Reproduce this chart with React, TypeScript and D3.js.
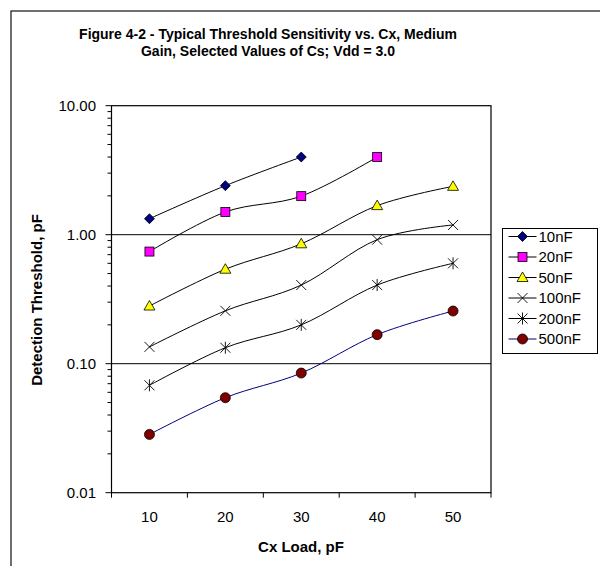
import React from "react";
import * as d3 from "d3";

const categories = [10, 20, 30, 40, 50];
const seriesNames = ["10nF", "20nF", "50nF", "100nF", "200nF", "500nF"];
const s10nF: (number | null)[] = [1.33, 2.4, 4.0, null, null];
const s20nF: (number | null)[] = [0.74, 1.5, 1.99, 4.0, null];
const s50nF: (number | null)[] = [0.28, 0.54, 0.85, 1.68, 2.37];
const s100nF: (number | null)[] = [0.135, 0.257, 0.407, 0.915, 1.19];
const s200nF: (number | null)[] = [0.068, 0.133, 0.2, 0.407, 0.6];
const s500nF: (number | null)[] = [0.0283, 0.0545, 0.0846, 0.168, 0.256];
const seriesValues = [s10nF, s20nF, s50nF, s100nF, s200nF, s500nF];
const yTickValues = [0.01, 0.1, 1, 10];
const yTickLabels = ["0.01", "0.10", "1.00", "10.00"];
const titleLines = [
  "Figure 4-2 - Typical Threshold Sensitivity vs. Cx, Medium",
  "Gain, Selected Values of Cs; Vdd = 3.0",
];

const markerKinds = ["diamond", "square", "triangle", "x", "star", "circle"];
const markerFill = ["#000080", "#FF00FF", "#FFFF00", "none", "none", "#800000"];
const lineColor = ["#000", "#000", "#000", "#000", "#000", "#000080"];

const FONT = "Liberation Sans, Arial, sans-serif";

function Marker({ kind, x, y, fill }: { kind: string; x: number; y: number; fill: string }) {
  const s = 5;
  if (kind === "diamond")
    return <path d={`M${x},${y - s}L${x + s},${y}L${x},${y + s}L${x - s},${y}Z`} fill={fill} stroke="#000" strokeWidth={0.8} />;
  if (kind === "square")
    return <rect x={x - 4.5} y={y - 4.5} width={9} height={9} fill={fill} stroke="#000" strokeWidth={0.8} />;
  if (kind === "triangle")
    return <path d={`M${x},${y - 5.5}L${x + 5.5},${y + 4}L${x - 5.5},${y + 4}Z`} fill={fill} stroke="#000" strokeWidth={0.8} />;
  if (kind === "x")
    return <path d={`M${x - 5},${y - 5}L${x + 5},${y + 5}M${x - 5},${y + 5}L${x + 5},${y - 5}`} stroke="#000" strokeWidth={0.9} />;
  if (kind === "star")
    return <path d={`M${x - 5},${y - 5}L${x + 5},${y + 5}M${x - 5},${y + 5}L${x + 5},${y - 5}M${x},${y - 6}L${x},${y + 6}`} stroke="#000" strokeWidth={0.9} />;
  return <circle cx={x} cy={y} r={5} fill={fill} stroke="#000" strokeWidth={0.8} />;
}

export default function App() {
  const W = 600, H = 566;
  const left = 111.5, right = 491, top = 105.7, bottom = 492.7;

  const x = d3.scaleBand<number>().domain(categories).range([left, right]);
  const y = d3.scaleLog().domain([0.01, 10]).range([bottom, top]);
  const cx = (c: number) => (x(c) as number) + x.bandwidth() / 2;

  const line = d3
    .line<[number, number]>()
    .x((d) => d[0])
    .y((d) => d[1])
    .curve(d3.curveCardinal.tension(0));

  const minorTicks: number[] = [];
  [0.01, 0.1, 1].forEach((dec) => {
    for (let k = 2; k <= 9; k++) minorTicks.push(dec * k);
  });

  const boundaries = [...categories.map((c) => x(c) as number), right];

  const legX = 502.5, legY = 228.5, legW = 95, legRow = 20.5;

  return (
    <svg width={W} height={H} style={{ position: "absolute", left: 0, top: 0, display: "block" }} fontFamily={FONT}>
      <rect x={0} y={0} width={W} height={H} fill="#fff" />
      <rect x={11} y={11} width={700} height={700} fill="none" stroke="#222" strokeWidth={1.3} />
      {titleLines.map((t, i) => (
        <text key={i} x={268} y={39 + i * 17} textAnchor="middle" fontSize={14} fontWeight="bold">
          {t}
        </text>
      ))}
      {/* gridlines */}
      {[0.1, 1].map((v) => (
        <line key={v} x1={left} x2={right} y1={y(v)} y2={y(v)} stroke="#000" strokeWidth={1} />
      ))}
      {/* plot border */}
      <rect x={left} y={top} width={right - left} height={bottom - top} fill="none" stroke="#000" strokeWidth={1.2} />
      {/* y ticks */}
      {yTickValues.map((v, i) => (
        <g key={v}>
          <line x1={left - 6} x2={left} y1={y(v)} y2={y(v)} stroke="#000" />
          <text x={96} y={y(v)} dy="0.36em" textAnchor="end" fontSize={15}>
            {yTickLabels[i]}
          </text>
        </g>
      ))}
      {minorTicks.map((v) => (
        <line key={v} x1={left - 4} x2={left} y1={y(v)} y2={y(v)} stroke="#000" />
      ))}
      {/* x ticks */}
      {boundaries.map((b, i) => (
        <line key={i} x1={b} x2={b} y1={bottom} y2={bottom + 5} stroke="#000" />
      ))}
      {categories.map((c) => (
        <text key={c} x={cx(c)} y={522} textAnchor="middle" fontSize={15}>
          {c}
        </text>
      ))}
      <text x={301} y={552} textAnchor="middle" fontSize={15} fontWeight="bold">
        Cx Load, pF
      </text>
      <text transform={`translate(42,300) rotate(-90)`} textAnchor="middle" fontSize={15} fontWeight="bold">
        Detection Threshold, pF
      </text>
      {/* series */}
      {seriesValues.map((vals, si) => {
        const pts: [number, number][] = [];
        vals.forEach((v, i) => {
          if (v != null) pts.push([cx(categories[i]), y(v)]);
        });
        return (
          <g key={si}>
            <path d={line(pts) || ""} fill="none" stroke={lineColor[si]} strokeWidth={1} />
            {pts.map((p, i) => (
              <Marker key={i} kind={markerKinds[si]} x={p[0]} y={p[1]} fill={markerFill[si]} />
            ))}
          </g>
        );
      })}
      {/* legend */}
      <rect x={legX} y={legY} width={legW} height={legRow * 6 + 2} fill="#fff" stroke="#000" strokeWidth={1} />
      {seriesNames.map((n, i) => {
        const ly = legY + 8 + i * legRow;
        return (
          <g key={n}>
            <line x1={legX + 6} x2={legX + 34} y1={ly} y2={ly} stroke={lineColor[i]} strokeWidth={1} />
            <Marker kind={markerKinds[i]} x={legX + 20} y={ly} fill={markerFill[i]} />
            <text x={legX + 36} y={ly} dy="0.36em" fontSize={15}>
              {n}
            </text>
          </g>
        );
      })}
    </svg>
  );
}
